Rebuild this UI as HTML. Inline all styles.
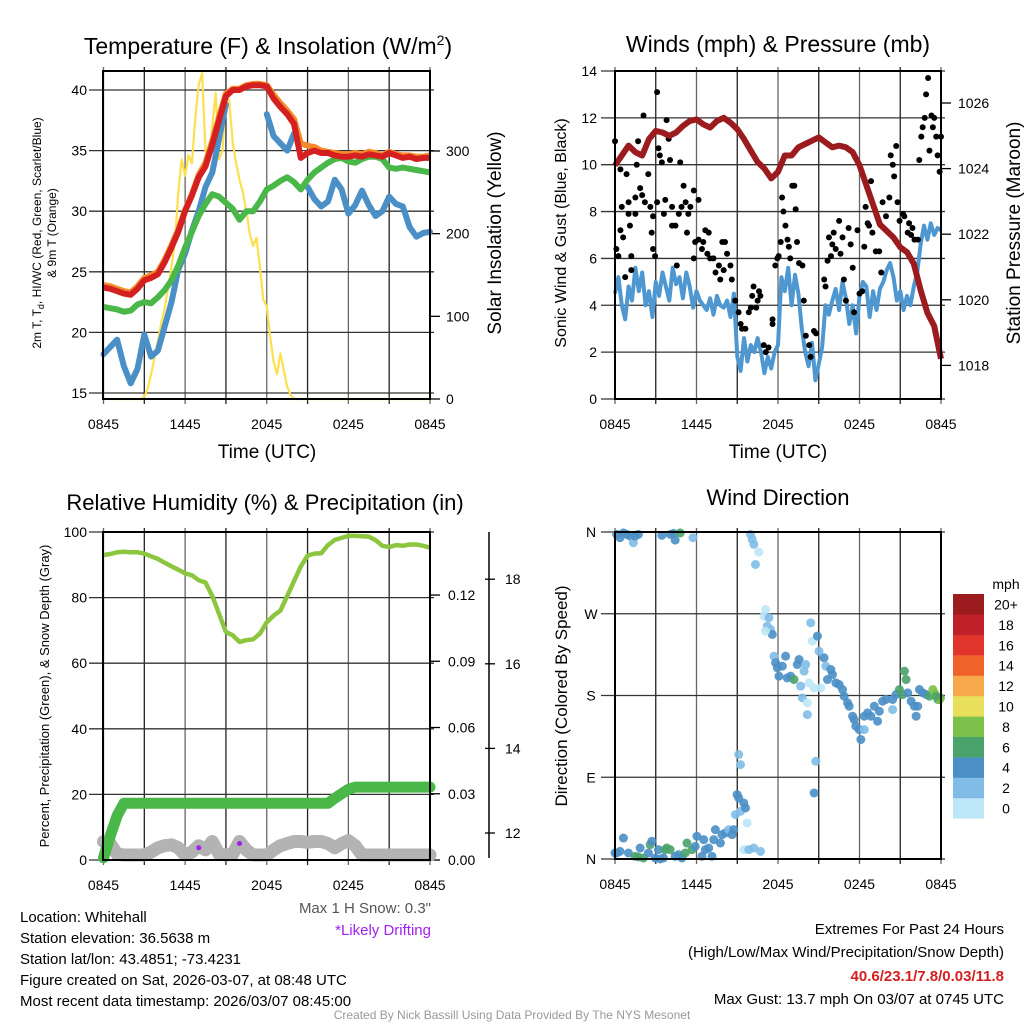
<!DOCTYPE html>
<html><head><meta charset="utf-8"><style>
html,body{margin:0;padding:0;background:#fff;}
svg{display:block;font-family:"Liberation Sans",sans-serif;}
</style></head><body>
<svg id="chart" width="1024" height="1024" viewBox="0 0 1024 1024" xmlns="http://www.w3.org/2000/svg">
<rect x="0" y="0" width="1024" height="1024" fill="#fff"/>
<g id="texts">
<text x="268" y="54" font-size="23" text-anchor="middle">Temperature (F) &amp; Insolation (W/m<tspan font-size="14" dy="-9">2</tspan><tspan dy="9">)</tspan></text>
<text transform="translate(41,233) rotate(-90)" font-size="12" text-anchor="middle">2m T, T<tspan font-size="9" dy="3">d</tspan><tspan dy="-3">, HI/WC (Red, Green, Scarlet/Blue)</tspan></text>
<text transform="translate(56,233) rotate(-90)" font-size="12" text-anchor="middle">&amp; 9m T (Orange)</text>
<text transform="translate(501,233) rotate(-90)" font-size="19" text-anchor="middle">Solar Insolation (Yellow)</text>
<text x="267" y="458" font-size="19" text-anchor="middle">Time (UTC)</text>

<text x="778" y="52" font-size="23" text-anchor="middle">Winds (mph) &amp; Pressure (mb)</text>
<text transform="translate(566,233) rotate(-90)" font-size="16" text-anchor="middle">Sonic Wind &amp; Gust (Blue, Black)</text>
<text transform="translate(1020,233) rotate(-90)" font-size="19" text-anchor="middle">Station Pressure (Maroon)</text>
<text x="778" y="458" font-size="19" text-anchor="middle">Time (UTC)</text>

<text x="265" y="510" font-size="22" text-anchor="middle">Relative Humidity (%) &amp; Precipitation (in)</text>
<text transform="translate(49,696) rotate(-90)" font-size="13" text-anchor="middle">Percent, Precipitation (Green), &amp; Snow Depth (Gray)</text>
<text x="431" y="913" font-size="15" fill="#555" text-anchor="end">Max 1 H Snow: 0.3"</text>
<text x="431" y="935" font-size="15" fill="#a020f0" text-anchor="end">*Likely Drifting</text>

<text x="778" y="505" font-size="22" text-anchor="middle">Wind Direction</text>
<text transform="translate(567,696) rotate(-90)" font-size="17" text-anchor="middle">Direction (Colored By Speed)</text>
<text x="1006" y="589" font-size="14" text-anchor="middle">mph</text>

<g font-size="15">
<text x="20" y="922">Location: Whitehall</text>
<text x="20" y="943">Station elevation: 36.5638 m</text>
<text x="20" y="964">Station lat/lon: 43.4851; -73.4231</text>
<text x="20" y="985">Figure created on Sat, 2026-03-07, at 08:48 UTC</text>
<text x="20" y="1006">Most recent data timestamp: 2026/03/07 08:45:00</text>
</g>
<g font-size="15" text-anchor="end">
<text x="1004" y="934">Extremes For Past 24 Hours</text>
<text x="1004" y="957">(High/Low/Max Wind/Precipitation/Snow Depth)</text>
<text x="1004" y="981" fill="#d42020" font-weight="bold">40.6/23.1/7.8/0.03/11.8</text>
<text x="1004" y="1004">Max Gust: 13.7 mph On 03/07 at 0745 UTC</text>
</g>
<text x="512" y="1019" font-size="12" fill="#999" text-anchor="middle">Created By Nick Bassill Using Data Provided By The NYS Mesonet</text>
</g>
</svg>
<script>
// ---------- data ----------
const timeTicks = ["0845","1445","2045","0245","0845"];
const tempTicks = [15,20,25,30,35,40];
const solarTicks = [0,100,200,300];
const windTicks = [0,2,4,6,8,10,12,14];
const pressTicks = [1018,1020,1022,1024,1026];
const rhTicks = [0,20,40,60,80,100];
const precipTicks = [0.00,0.03,0.06,0.09,0.12];
const snowTicks = [12,14,16,18];
const dirTicks = ["N","E","S","W","N"];
const dirTickVals = [0,90,180,270,360];
const speedBins = ["0","2","4","6","8","10","12","14","16","18","20+"];
const speedColors = ["#bde6f7","#80bce6","#4a8fc6","#4aa36a","#7cc24a","#e8e05a","#f7a84a","#f0622a","#e0352b","#c0202a","#9b1b1e"];

// half-hourly temperature (F)
const tempT = [23.7,23.6,23.4,23.2,23.1,23.6,24.3,24.5,24.8,25.8,27.0,28.3,30.0,31.3,32.8,33.7,35.5,37.5,39.5,40.0,40.0,40.3,40.4,40.4,40.3,39.3,38.6,38.0,37.2,34.4,34.8,35.0,34.8,34.8,34.6,34.5,34.5,34.6,34.5,34.7,34.6,34.5,34.8,34.6,34.4,34.5,34.3,34.4,34.4];
const temp9m = [23.9,23.8,23.6,23.4,23.3,23.8,24.5,24.7,25.0,26.0,27.2,28.5,30.1,31.4,33.0,34.0,35.8,37.8,39.7,40.1,40.1,40.4,40.5,40.5,40.4,39.6,38.9,38.3,37.6,35.6,35.4,35.3,35.0,34.9,34.8,34.7,34.7,34.8,34.7,34.9,34.8,34.6,34.9,34.7,34.6,34.6,34.5,34.5,34.6];
const dewpoint = [22.1,22.0,21.9,21.7,21.8,22.3,22.5,22.4,22.9,23.5,24.3,25.5,27.0,28.3,29.6,30.6,31.4,31.2,30.7,30.2,29.3,30.0,30.0,30.8,31.8,32.1,32.5,32.8,32.4,31.8,32.6,33.2,33.6,34.0,34.3,34.4,34.1,34.0,34.3,34.5,34.5,34.3,33.6,33.5,33.6,33.5,33.4,33.3,33.2];
const windChill = [18.2,18.8,19.4,17.2,15.8,17.0,19.8,18.0,18.5,20.5,22.5,25.2,26.5,28.4,30.0,32.0,33.2,36.0,38.8,null,38.3,null,null,null,38.0,36.2,35.6,35.0,36.4,null,32.0,31.0,30.4,30.8,32.6,31.8,29.8,30.5,31.7,30.5,29.6,30.0,31.2,30.6,30.4,28.7,27.9,28.2,28.3];
// quarter-hourly solar insolation (W/m2)
const solar = [0,0,0,0,0,0,0,0,0,0,0,0,3,12,30,50,70,92,110,135,160,190,250,290,270,295,285,340,380,394,300,290,330,370,290,300,370,360,310,285,265,250,228,200,185,195,160,120,112,75,45,30,55,35,15,5,0,0,0,0,0,0,0,0,0,0,0,0,0,0,0,0,0,0,0,0,0,0,0,0,0,0,0,0,0,0,0,0,0,0,0,0,0,0,0,0,0];

// half-hourly pressure (mb)
const pressure = [1024.1,1024.4,1024.7,1024.5,1024.4,1024.9,1025.15,1025.1,1025.0,1025.1,1025.3,1025.45,1025.5,1025.35,1025.25,1025.45,1025.55,1025.4,1025.2,1024.9,1024.55,1024.2,1024.0,1023.7,1023.9,1024.4,1024.4,1024.65,1024.75,1024.85,1024.95,1024.8,1024.65,1024.7,1024.65,1024.5,1024.1,1023.5,1022.9,1022.3,1022.1,1021.9,1021.6,1021.45,1021.1,1020.3,1019.6,1019.2,1018.2];
// quarter-hourly sonic wind (mph)
const sonicWind = [4.5,5.2,4.0,3.4,4.8,4.2,5.6,4.6,5.4,4.0,4.6,3.5,5.0,4.4,5.4,4.8,4.2,5.6,4.9,5.2,4.3,5.4,4.8,3.9,4.6,4.2,4.0,3.8,4.3,3.6,4.4,4.0,3.9,4.2,3.5,4.5,1.8,1.2,2.6,1.6,2.3,2.0,2.6,2.0,1.1,1.8,1.3,2.0,2.3,5.2,4.6,5.6,4.0,5.3,4.5,3.0,2.0,1.4,2.4,0.8,1.5,2.2,4.0,3.6,4.2,4.7,3.8,5.0,4.3,3.2,4.0,2.8,4.4,5.0,4.8,3.5,4.6,3.8,4.7,5.0,5.5,5.8,5.2,4.2,4.6,3.8,4.4,4.0,4.8,5.4,6.6,7.4,6.8,7.5,7.0,7.3,7.2];
// gusts: hours since 0845, mph
const gustHours = [0,0.1,0.25,0.4,0.4,0.5,0.6,0.75,0.85,1.0,1.0,1.1,1.2,1.2,1.5,1.5,1.6,1.7,1.85,2.0,2.1,2.2,2.45,2.6,2.7,2.8,2.8,2.95,3.1,3.1,3.2,3.3,3.45,3.6,3.7,3.8,3.95,4.05,4.2,4.2,4.45,4.55,4.7,4.8,4.9,5.05,5.2,5.3,5.4,5.55,5.8,5.8,5.9,6.15,6.15,6.4,6.5,6.65,6.8,6.9,7.0,7.25,7.4,7.65,7.75,7.9,8.0,8.1,8.25,8.5,8.6,8.85,9.1,9.25,9.35,9.6,9.85,10.0,10.1,10.2,10.4,10.5,10.6,10.7,10.95,11.1,11.3,11.6,11.6,11.8,11.95,12.05,12.2,12.3,12.4,12.55,12.7,12.8,12.9,13.05,13.2,13.3,13.4,13.55,13.8,13.9,14.05,14.3,14.4,14.65,14.8,15.4,15.5,15.65,15.75,15.9,16.0,16.1,16.25,16.5,16.6,16.75,16.85,17.0,17.2,17.35,17.5,17.6,17.85,18.0,18.2,18.35,18.45,18.6,18.7,18.85,18.95,19.2,19.45,19.6,19.7,19.95,20.2,20.3,20.45,20.55,20.7,20.8,20.95,21.2,21.3,21.55,21.65,21.8,21.9,22.05,22.3,22.4,22.55,22.65,22.8,22.9,23.05,23.15,23.3,23.4,23.5,23.65,23.75,23.9,24.0];
const gustVals = [11.0,6.4,6.1,9.8,7.2,8.2,6.9,5.2,9.6,8.4,7.9,7.4,6.1,5.5,8.6,7.9,10.0,11.0,9.0,8.7,12.1,8.4,9.6,8.2,7.1,7.8,6.4,6.1,13.1,8.4,10.7,10.4,10.1,7.9,8.5,11.9,11.1,10.2,8.2,7.4,7.4,5.7,7.9,10.1,8.2,9.1,8.4,7.1,7.9,8.2,8.9,6.0,6.7,8.5,6.8,6.4,6.7,7.2,6.2,7.1,6.0,6.0,5.4,5.7,5.1,6.7,5.5,6.7,6.2,5.7,5.1,4.2,3.7,3.2,3.0,3.0,3.7,3.9,4.4,4.8,3.9,4.2,4.6,4.4,2.3,2.0,2.2,3.2,3.4,5.7,6.0,6.1,6.7,8.6,8.0,7.4,6.8,6.5,6.0,9.1,9.1,8.1,6.7,5.8,5.7,4.2,2.7,2.3,1.8,2.9,2.8,5.1,4.8,5.9,6.9,6.1,6.6,7.1,6.4,7.6,6.2,6.9,5.1,4.2,7.3,6.6,5.6,3.7,7.2,4.5,4.6,6.5,8.2,7.5,7.4,9.3,7.1,6.3,6.3,5.4,8.4,7.8,8.6,10.4,10.0,9.5,10.8,8.4,7.6,7.9,7.8,7.1,7.5,7.0,7.3,6.8,6.8,10.2,11.2,11.6,12.0,13.0,13.7,10.6,12.1,11.6,12.0,11.2,10.4,9.7,11.2];

// half-hourly RH (%), precip (in), snow depth (in)
const rh = [93.0,93.3,93.8,94.0,93.8,93.8,93.4,92.6,91.8,90.6,89.5,88.5,87.4,86.8,85.3,84.6,80.5,75.0,69.5,68.5,66.5,67.0,67.3,69.0,72.5,74.5,76.0,80.5,85.0,89.5,92.8,93.4,93.5,96.0,97.6,98.2,98.8,98.8,98.7,98.6,97.5,95.8,95.4,96.0,95.8,96.2,96.2,95.8,95.2];
const precip = [0.001,0.011,0.020,0.0257,0.0257,0.0257,0.0257,0.0257,0.0257,0.0257,0.0257,0.0257,0.0257,0.0257,0.0257,0.0257,0.0257,0.0257,0.0257,0.0257,0.0257,0.0257,0.0257,0.0257,0.0257,0.0257,0.0257,0.0257,0.0257,0.0257,0.0257,0.0257,0.0257,0.0257,0.028,0.030,0.032,0.033,0.033,0.033,0.033,0.033,0.033,0.033,0.033,0.033,0.033,0.033,0.033];
const snowDepth = [11.8,11.75,11.5,11.48,11.48,11.48,11.48,11.55,11.65,11.7,11.72,11.65,11.48,11.55,11.7,11.6,11.8,11.5,11.48,11.5,11.8,11.6,11.48,11.48,11.48,11.6,11.7,11.75,11.8,11.8,11.78,11.8,11.8,11.75,11.65,11.75,11.82,11.7,11.48,11.48,11.48,11.48,11.48,11.48,11.48,11.48,11.48,11.48,11.48];
const driftIdx = [14,20];

// wind direction dots: hour, degrees, speed (mph)
const dirHours = [0.12,0.37,0.62,0.86,1.11,1.35,1.48,1.72,3.45,4.06,4.31,4.43,4.8,5.74,
0,0.12,0.37,0.62,0.99,1.48,1.72,1.85,2.09,2.46,2.59,2.71,2.96,3.2,3.33,3.57,3.69,3.82,4.06,4.43,4.68,4.93,5.17,5.3,5.67,5.91,6.03,6.4,6.53,6.65,6.9,7.14,7.27,7.39,7.76,7.88,8.13,8.37,8.62,8.74,8.87,8.99,9.11,9.24,9.48,9.61,9.73,9.11,9.24,9.48,9.85,10.22,10.71,
9.98,10.1,10.22,10.59,10.34,11.08,10.96,11.33,11.21,11.45,11.58,11.08,
11.7,11.82,12.07,11.95,12.32,12.56,12.68,12.93,13.18,13.42,13.55,13.67,13.79,13.92,14.04,14.16,14.16,14.29,14.41,14.53,14.66,14.78,14.66,14.9,15.02,15.15,15.39,15.52,15.64,15.89,16.01,16.26,16.5,16.75,16.87,17.12,17.24,17.49,17.61,17.73,17.98,18.1,18.35,18.35,18.6,18.84,19.09,19.33,19.46,19.7,19.95,20.44,20.44,20.69,20.94,21.18,21.31,21.43,21.55,21.8,22.04,22.17,22.29,22.41,22.66,22.91,23.15,23.4,23.52,23.77,23.95,23.9,23.65];
const dirDegs = [357.4,353.7,359,357.4,355.5,348.2,355.5,357.4,356.3,357.4,358.5,351.1,359,353.7,
6.6,6.6,8.4,23.1,6.6,2.9,2.2,12.1,1.1,6.6,15.8,19.5,1.1,10.3,0,1.1,10.3,12.1,10.3,2.9,4.8,1.1,6.6,17.6,10.3,13.9,25,2.9,21.3,10.3,12.1,2.9,21.3,32.3,17.6,26.8,28.7,32.3,26.8,32.3,48.9,70.9,67.2,52.5,61.7,56.2,39.7,115,103.9,10.3,10.3,12.1,8.4,
357.4,351.9,346.4,337.9,324.3,274.7,267.4,265.6,256.4,252.7,247.2,250.9,
223.3,216,201.3,210.5,212.3,223.3,199.4,201.3,197.6,214.1,219.6,190.3,177.4,206.8,214.1,171.9,159,193.9,260,239.8,188.4,107.6,72.7,245.4,228.8,188.4,221.5,212.3,197.6,208.6,203.1,193.9,192.1,186.6,179.2,171.9,168.2,157.2,153.5,146.2,142.5,131.5,142.5,157.2,160.9,157.2,168.2,151.7,162.7,173.7,175.6,164.5,175.6,181.1,186.6,181.1,206.8,197.6,182.9,173.7,168.2,157.2,168.2,186.6,182.9,181.1,179.2,186.6,182.9,175.6,177.4,175.6,179.2];
const dirSpeeds = [5,5,5,5,5,3,5,5,5,5,5,5,7,3,
5,5,5,5,5,7,7,5,7,5,7,5,5,5,5,5,7,7,7,5,5,5,7,7,7,5,5,5,5,5,5,5,5,5,5,5,5,3,5,5,3,5,5,3,5,5,1,3,3,1,3,3,3,
3,3,3,1,3,1,1,3,3,3,5,1,
3,5,5,5,5,5,5,5,7,5,5,3,3,3,3,1,3,1,3,1,1,3,5,5,3,1,5,3,5,5,5,5,5,5,5,5,5,5,5,5,5,5,3,5,5,5,5,5,5,5,5,3,5,5,7,7,7,7,5,5,5,5,5,5,5,5,7,9,9,7,7,9,7];

// ---------- helpers ----------
const NS = "http://www.w3.org/2000/svg";
const svg = document.getElementById("chart");
function mk(tag, attrs, parent) {
  const e = document.createElementNS(NS, tag);
  for (const k in attrs) e.setAttribute(k, attrs[k]);
  (parent || svg).appendChild(e);
  return e;
}
function pathFrom(xs, ys) {
  let d = "", pen = false;
  for (let i = 0; i < xs.length; i++) {
    if (ys[i] === null) { pen = false; continue; }
    d += (pen ? "L" : "M") + xs[i].toFixed(1) + " " + ys[i].toFixed(1);
    pen = true;
  }
  return d;
}
function speedColor(s) { return speedColors[Math.max(0, Math.min(10, Math.floor((s || 5) / 2)))]; }

// scales
const xA = h => 103.5 + h * 326.5 / 24;
const xB = h => 615 + h * 326 / 24;
const yT = v => 90 + (40 - v) * 12.12;
const yS = v => 399 - v * 0.8267;
const yW = v => 399 - v * 23.43;
const yP = v => 103 + (1026 - v) * 32.8;
const yR = v => 860 - v * 3.28;
const yPr = v => 860 - v * 2208;
const ySn = v => 833 - (v - 12) * 42.3;
const yD = v => 859 - v * 0.9083;

function frame(name, x0, x1, y0, y1, xfn) {
  const g = mk("g", {});
  
  
  for (let k = 0; k <= 8; k++) {
    const x = xfn(k * 3);
    const l = mk("line", {x1: x, x2: x, y1: y0 - 4, y2: y1 + 5, stroke: k % 2 ? "#222" : "#666", "stroke-width": 1.3}, g);
    
    
  }
  timeTicks.forEach((t, k) => {
    const tx = mk("text", {x: xfn(k * 6), y: y1 + 30, "font-size": 14, "text-anchor": "middle"}, g);
    tx.textContent = t;
    
    
  });
  return g;
}
function hgrid(g, y, x0, x1) {
  const l = mk("line", {x1: x0 - 14, x2: x1 + 4, y1: y, y2: y, stroke: "#333", "stroke-width": 1.3}, g);
  
  
}
function label(g, x, y, txt, anchor, name, size) {
  const t = mk("text", {x: x, y: y + 5, "font-size": size || 14, "text-anchor": anchor}, g);
  t.textContent = txt;
  
  
  return t;
}
function box(g, x0, x1, y0, y1) {
  const r = mk("rect", {x: x0, y: y0, width: x1 - x0, height: y1 - y0, fill: "none", stroke: "#000", "stroke-width": 2}, g);
  
  
}

// ---------- panel 1 ----------
const g1 = frame("temperature-panel", 103, 430, 71, 399, xA);
tempTicks.forEach(v => { hgrid(g1, yT(v), 103, 430); label(g1, 87, yT(v), String(v), "end", "temp-tick-label", 14); });
solarTicks.forEach(v => {
  const t = mk("line", {x1: 430, x2: 440, y1: yS(v), y2: yS(v), stroke: "#000", "stroke-width": 1.3}, g1);
  
  
  label(g1, 446, yS(v), String(v), "start", "solar-tick-label", 14);
});
const halfH = tempT.map((_, i) => i * 0.5);
const solX = solar.map((_, j) => xA(j * 0.25));
let p;
p = mk("path", {d: pathFrom(solX, solar.map(yS)), fill: "none", stroke: "#fde050", "stroke-width": 2.2, "stroke-linejoin": "round"}, g1);


p = mk("path", {d: pathFrom(halfH.map(xA), windChill.map(v => v === null ? null : yT(v))), fill: "none", stroke: "#4a8fc6", "stroke-width": 6, "stroke-linejoin": "round", "stroke-linecap": "round"}, g1);


p = mk("path", {d: pathFrom(halfH.map(xA), dewpoint.map(yT)), fill: "none", stroke: "#4ab749", "stroke-width": 6, "stroke-linejoin": "round"}, g1);


p = mk("path", {d: pathFrom(halfH.map(xA), temp9m.map(yT)), fill: "none", stroke: "#f58a2a", "stroke-width": 6, "stroke-linejoin": "round"}, g1);


p = mk("path", {d: pathFrom(halfH.map(xA), tempT.map(yT)), fill: "none", stroke: "#d42020", "stroke-width": 6, "stroke-linejoin": "round"}, g1);


box(g1, 103, 430, 71, 399);

// ---------- panel 2 ----------
const g2 = frame("wind-panel", 615, 941, 71, 399, xB);
windTicks.forEach(v => { hgrid(g2, yW(v), 615, 941); label(g2, 597, yW(v), String(v), "end", "wind-tick-label", 14); });
pressTicks.forEach(v => {
  const t = mk("line", {x1: 941, x2: 951, y1: yP(v), y2: yP(v), stroke: "#000", "stroke-width": 1.3}, g2);
  
  
  label(g2, 958, yP(v), String(v), "start", "pressure-tick-label", 14);
});
p = mk("path", {d: pathFrom(sonicWind.map((_, j) => xB(j * 0.25)), sonicWind.map(yW)), fill: "none", stroke: "#4f97d0", "stroke-width": 4, "stroke-linejoin": "round"}, g2);


gustVals.forEach((v, i) => {
  const c = mk("circle", {cx: xB(gustHours[i]), cy: yW(v), r: 3, fill: "#000"}, g2);
  
  
});
p = mk("path", {d: pathFrom(pressure.map((_, i) => xB(i * 0.5)), pressure.map(yP)), fill: "none", stroke: "#9b1b1e", "stroke-width": 6, "stroke-linejoin": "round"}, g2);


box(g2, 615, 941, 71, 399);

// ---------- panel 3 ----------
const g3 = frame("humidity-panel", 103, 430, 532, 860, xA);
rhTicks.forEach(v => { hgrid(g3, yR(v), 103, 430); label(g3, 87, yR(v), String(v), "end", "rh-tick-label", 14); });
precipTicks.forEach(v => {
  const t = mk("line", {x1: 430, x2: 440, y1: yPr(v), y2: yPr(v), stroke: "#000", "stroke-width": 1.3}, g3);
  
  
  label(g3, 448, yPr(v), v.toFixed(2), "start", "precip-tick-label", 14);
});
const ax = mk("line", {x1: 489, x2: 489, y1: 532, y2: 858, stroke: "#000", "stroke-width": 1.5}, g3);


snowTicks.forEach(v => {
  const t = mk("line", {x1: 485, x2: 495, y1: ySn(v), y2: ySn(v), stroke: "#000", "stroke-width": 1.3}, g3);
  
  
  label(g3, 505, ySn(v), String(v), "start", "snow-tick-label", 14);
});
const hx = rh.map((_, i) => xA(i * 0.5));
p = mk("path", {d: pathFrom(hx, snowDepth.map(ySn)), fill: "none", stroke: "#b3b3b3", "stroke-width": 13, "stroke-linejoin": "round", "stroke-linecap": "round"}, g3);


driftIdx.forEach(i => {
  const c = mk("circle", {cx: hx[i], cy: ySn(snowDepth[i]) + 2, r: 2.5, fill: "#a020f0"}, g3);
  
  
});
p = mk("path", {d: pathFrom(hx, precip.map(yPr)), fill: "none", stroke: "#4ab749", "stroke-width": 11, "stroke-linejoin": "round", "stroke-linecap": "round"}, g3);


p = mk("path", {d: pathFrom(hx, rh.map(yR)), fill: "none", stroke: "#8cc63f", "stroke-width": 4.5, "stroke-linejoin": "round"}, g3);


box(g3, 103, 430, 532, 860);

// ---------- panel 4 ----------
const g4 = frame("direction-panel", 615, 941, 532, 859, xB);
dirTickVals.forEach((v, k) => { hgrid(g4, yD(v), 615, 941); label(g4, 591, yD(v), dirTicks[k], "middle", "direction-tick-label", 14); });
dirDegs.forEach((d, i) => {
  const c = mk("circle", {cx: xB(dirHours[i]), cy: yD(d), r: 4.5, fill: speedColor(dirSpeeds[i]), opacity: 0.9}, g4);
  
  
});
box(g4, 615, 941, 532, 859);

// colorbar
const gc = mk("g", {});


speedBins.forEach((b, k) => {
  const y = 594 + (10 - k) * 20.4;
  const r = mk("rect", {x: 953, y: y, width: 31, height: 20.6, fill: speedColors[k]}, gc);
  
  
  label(gc, 1006, y + 10.5, b, "middle", "colorbar-label", 14);
});
</script>
</body></html>
